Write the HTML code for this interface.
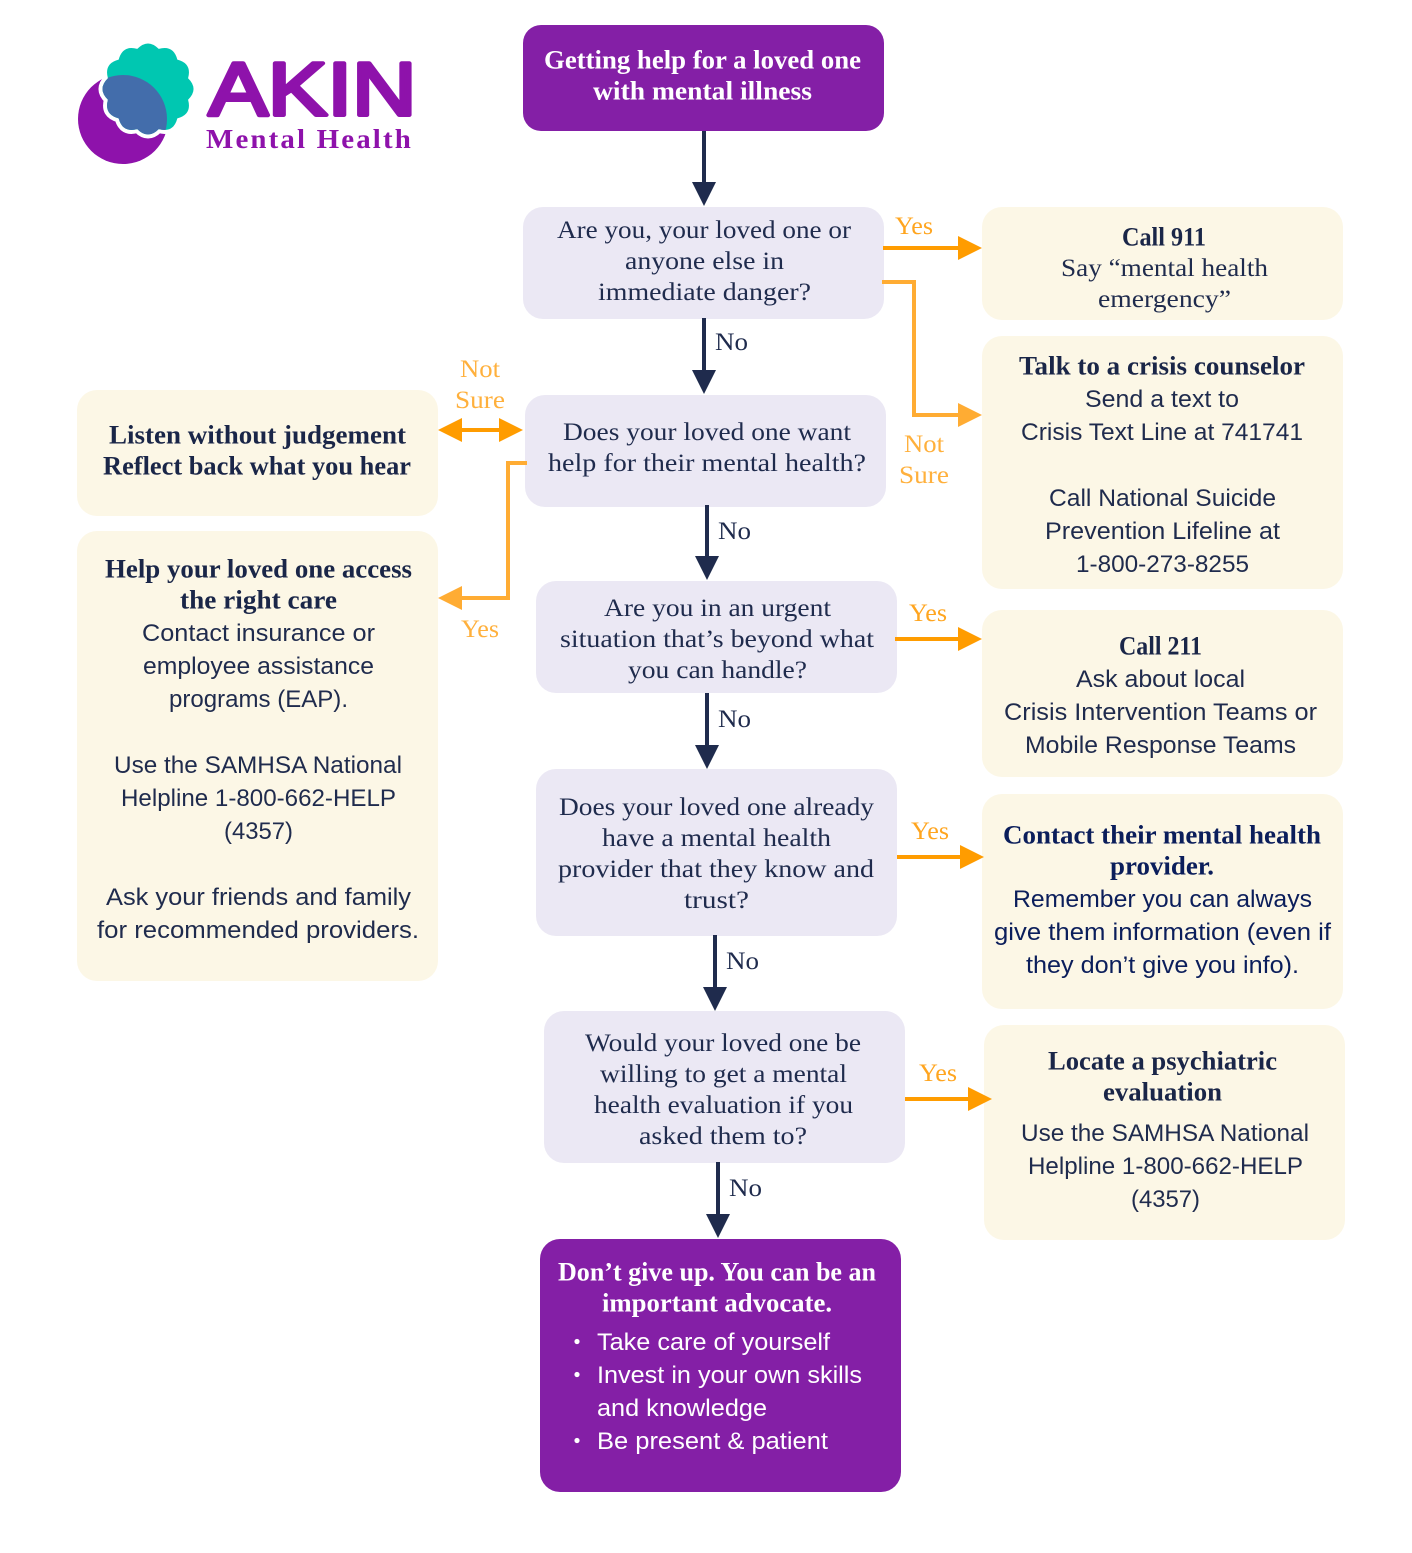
<!DOCTYPE html>
<html><head><meta charset="utf-8"><title>Getting help for a loved one with mental illness</title>
<style>
html,body{margin:0;padding:0;background:#fff;width:1412px;height:1553px;overflow:hidden}
svg{display:block}
text{text-anchor:middle}
.s{font:25.5px "Liberation Serif",serif;fill:#1f2b4d}
.b{font:bold 26px "Liberation Serif",serif;fill:#1a2648;transform:translateY(.6px)}
.o{font:24px "Liberation Sans",sans-serif;fill:#1f2b4d}
.n{fill:#0b1e5b}
.w{fill:#fff}
.l{font:25.5px "Liberation Serif",serif;fill:#ffb03c}
.y{font:25.5px "Liberation Serif",serif;fill:#ffa51f}
.st{text-anchor:start}
</style></head><body>
<svg xmlns="http://www.w3.org/2000/svg" width="1412" height="1553" viewBox="0 0 1412 1553">
<defs>
<clipPath id="cp"><path d="M188.08 99.74Q192.17 114.5 177.34 118.34Q173.5 133.17 158.74 129.08Q148 140 137.26 129.08Q122.5 133.17 118.66 118.34Q103.83 114.5 107.92 99.74Q97 89 107.92 78.26Q103.83 63.5 118.66 59.66Q122.5 44.83 137.26 48.92Q148 38 158.74 48.92Q173.5 44.83 177.34 59.66Q192.17 63.5 188.08 78.26Q199 89 188.08 99.74Z"/></clipPath>
</defs>

<!-- logo -->
<circle cx="123" cy="119" r="45" fill="#8e12ab"/>
<path d="M188.08 99.74Q192.17 114.5 177.34 118.34Q173.5 133.17 158.74 129.08Q148 140 137.26 129.08Q122.5 133.17 118.66 118.34Q103.83 114.5 107.92 99.74Q97 89 107.92 78.26Q103.83 63.5 118.66 59.66Q122.5 44.83 137.26 48.92Q148 38 158.74 48.92Q173.5 44.83 177.34 59.66Q192.17 63.5 188.08 78.26Q199 89 188.08 99.74Z" fill="#fff" stroke="#fff" stroke-width="8" stroke-linejoin="round"/>
<path d="M188.08 99.74Q192.17 114.5 177.34 118.34Q173.5 133.17 158.74 129.08Q148 140 137.26 129.08Q122.5 133.17 118.66 118.34Q103.83 114.5 107.92 99.74Q97 89 107.92 78.26Q103.83 63.5 118.66 59.66Q122.5 44.83 137.26 48.92Q148 38 158.74 48.92Q173.5 44.83 177.34 59.66Q192.17 63.5 188.08 78.26Q199 89 188.08 99.74Z" fill="#00c7b1"/>
<circle cx="123" cy="119" r="44" fill="#436dab" clip-path="url(#cp)"/>
<text x="312.5" y="115" textLength="208" lengthAdjust="spacingAndGlyphs" style="font:75px 'Liberation Sans',sans-serif;fill:#8e12ab;stroke:#8e12ab;stroke-width:4;stroke-linejoin:round;stroke-linecap:round">AKIN</text>
<text class="st" x="206" y="148" textLength="207" lengthAdjust="spacingAndGlyphs" style="font:bold 27px 'Liberation Serif',serif;letter-spacing:2px;fill:#8e12ab">Mental Health</text>

<!-- boxes -->
<g fill="#841fa6">
<rect x="523" y="25" width="361" height="106" rx="18"/>
<rect x="540" y="1239" width="361" height="253" rx="20"/>
</g>
<g fill="#ebe8f4">
<rect x="523" y="207" width="361" height="112" rx="20"/>
<rect x="525" y="395" width="361" height="112" rx="20"/>
<rect x="536" y="581" width="361" height="112" rx="20"/>
<rect x="536" y="769" width="361" height="167" rx="20"/>
<rect x="544" y="1011" width="361" height="152" rx="20"/>
</g>
<g fill="#fcf7e6">
<rect x="982" y="207" width="361" height="113" rx="20"/>
<rect x="982" y="336" width="361" height="253" rx="20"/>
<rect x="982" y="610" width="361" height="167" rx="20"/>
<rect x="982" y="794" width="361" height="215" rx="20"/>
<rect x="984" y="1025" width="361" height="215" rx="20"/>
<rect x="77" y="390" width="361" height="126" rx="20"/>
<rect x="77" y="531" width="361" height="450" rx="20"/>
</g>

<!-- navy arrows -->
<g fill="#1f2b4d" stroke="none">
<rect x="702" y="131" width="4" height="53"/><path d="M692 182h24l-12 24z"/>
<rect x="702" y="318" width="4" height="53"/><path d="M692 370h24l-12 24z"/>
<rect x="705" y="505" width="4" height="53"/><path d="M695 556h24l-12 24z"/>
<rect x="705" y="693" width="4" height="53"/><path d="M695 745h24l-12 24z"/>
<rect x="713" y="935" width="4" height="53"/><path d="M703 987h24l-12 24z"/>
<rect x="716" y="1162" width="4" height="53"/><path d="M706 1214h24l-12 24z"/>
</g>

<!-- orange arrows -->
<g fill="#ff9c00">
<rect x="883" y="246" width="76" height="4"/><path d="M958 236l24 12-24 12z"/>
<rect x="895" y="637" width="64" height="4"/><path d="M958 627l24 12-24 12z"/>
<rect x="897" y="855" width="64" height="4"/><path d="M960 845l24 12-24 12z"/>
<rect x="905" y="1097" width="64" height="4"/><path d="M968 1087l24 12-24 12z"/>
<rect x="461" y="428" width="39" height="4"/><path d="M462 418l-24 12 24 12z"/><path d="M499 418l24 12-24 12z"/>
</g>
<g fill="none" stroke="#ffac33" stroke-width="4">
<path d="M882 282h32v133h45"/>
<path d="M527 463h-19v135h-47"/>
</g>
<g fill="#ffac33"><path d="M958 403l24 12-24 12z"/><path d="M462 586l-24 12 24 12z"/></g>

<!-- connector labels -->
<text class="y" x="914" y="234" textLength="38" lengthAdjust="spacingAndGlyphs">Yes</text>
<text class="y" x="928" y="621" textLength="38" lengthAdjust="spacingAndGlyphs">Yes</text>
<text class="y" x="930" y="839" textLength="38" lengthAdjust="spacingAndGlyphs">Yes</text>
<text class="y" x="938" y="1081" textLength="38" lengthAdjust="spacingAndGlyphs">Yes</text>
<text class="l" x="480" y="637" textLength="38" lengthAdjust="spacingAndGlyphs">Yes</text>
<text class="l" x="480" y="377" textLength="40" lengthAdjust="spacingAndGlyphs">Not</text>
<text class="l" x="480" y="408" textLength="50" lengthAdjust="spacingAndGlyphs">Sure</text>
<text class="l" x="924" y="452" textLength="40" lengthAdjust="spacingAndGlyphs">Not</text>
<text class="l" x="924" y="483" textLength="50" lengthAdjust="spacingAndGlyphs">Sure</text>
<text class="s" x="731.5" y="350" textLength="33" lengthAdjust="spacingAndGlyphs">No</text>
<text class="s" x="734.5" y="539" textLength="33" lengthAdjust="spacingAndGlyphs">No</text>
<text class="s" x="734.5" y="727" textLength="33" lengthAdjust="spacingAndGlyphs">No</text>
<text class="s" x="742.5" y="969" textLength="33" lengthAdjust="spacingAndGlyphs">No</text>
<text class="s" x="745.5" y="1196" textLength="33" lengthAdjust="spacingAndGlyphs">No</text>

<!-- title -->
<text class="b w" x="702.5" y="68" textLength="317" lengthAdjust="spacingAndGlyphs">Getting help for a loved one</text>
<text class="b w" x="702.5" y="99" textLength="219" lengthAdjust="spacingAndGlyphs">with mental illness</text>

<!-- questions -->
<text class="s" x="704" y="238" textLength="294" lengthAdjust="spacingAndGlyphs">Are you, your loved one or</text>
<text class="s" x="704.5" y="269" textLength="159" lengthAdjust="spacingAndGlyphs">anyone else in</text>
<text class="s" x="704.5" y="300" textLength="213" lengthAdjust="spacingAndGlyphs">immediate danger?</text>

<text class="s" x="707" y="440" textLength="288" lengthAdjust="spacingAndGlyphs">Does your loved one want</text>
<text class="s" x="707" y="471" textLength="318" lengthAdjust="spacingAndGlyphs">help for their mental health?</text>

<text class="s" x="717.5" y="616" textLength="227" lengthAdjust="spacingAndGlyphs">Are you in an urgent</text>
<text class="s" x="717" y="647" textLength="314" lengthAdjust="spacingAndGlyphs">situation that’s beyond what</text>
<text class="s" x="717.5" y="678" textLength="179" lengthAdjust="spacingAndGlyphs">you can handle?</text>

<text class="s" x="716.5" y="815" textLength="315" lengthAdjust="spacingAndGlyphs">Does your loved one already</text>
<text class="s" x="716.5" y="846" textLength="229" lengthAdjust="spacingAndGlyphs">have a mental health</text>
<text class="s" x="716" y="877" textLength="316" lengthAdjust="spacingAndGlyphs">provider that they know and</text>
<text class="s" x="716.5" y="908" textLength="65" lengthAdjust="spacingAndGlyphs">trust?</text>

<text class="s" x="723" y="1051" textLength="276" lengthAdjust="spacingAndGlyphs">Would your loved one be</text>
<text class="s" x="723.5" y="1082" textLength="247" lengthAdjust="spacingAndGlyphs">willing to get a mental</text>
<text class="s" x="723.5" y="1113" textLength="259" lengthAdjust="spacingAndGlyphs">health evaluation if you</text>
<text class="s" x="723" y="1144" textLength="168" lengthAdjust="spacingAndGlyphs">asked them to?</text>

<!-- right column -->
<text class="b" x="1164" y="245" textLength="84" lengthAdjust="spacingAndGlyphs">Call 911</text>
<text class="s" x="1164.5" y="276" textLength="207" lengthAdjust="spacingAndGlyphs">Say “mental health</text>
<text class="s" x="1164.5" y="307" textLength="133" lengthAdjust="spacingAndGlyphs">emergency”</text>

<text class="b" x="1162" y="374" textLength="286" lengthAdjust="spacingAndGlyphs">Talk to a crisis counselor</text>
<text class="o" x="1162" y="407" textLength="154" lengthAdjust="spacingAndGlyphs">Send a text to</text>
<text class="o" x="1162" y="440" textLength="282" lengthAdjust="spacingAndGlyphs">Crisis Text Line at 741741</text>
<text class="o" x="1162.5" y="506" textLength="227" lengthAdjust="spacingAndGlyphs">Call National Suicide</text>
<text class="o" x="1162.5" y="539" textLength="235" lengthAdjust="spacingAndGlyphs">Prevention Lifeline at</text>
<text class="o" x="1162.5" y="572" textLength="173" lengthAdjust="spacingAndGlyphs">1-800-273-8255</text>

<text class="b" x="1160.5" y="654" textLength="83" lengthAdjust="spacingAndGlyphs">Call 211</text>
<text class="o" x="1160.5" y="687" textLength="169" lengthAdjust="spacingAndGlyphs">Ask about local</text>
<text class="o" x="1160.5" y="720" textLength="313" lengthAdjust="spacingAndGlyphs">Crisis Intervention Teams or</text>
<text class="o" x="1160.5" y="753" textLength="271" lengthAdjust="spacingAndGlyphs">Mobile Response Teams</text>

<text class="b n" x="1162" y="843" textLength="318" lengthAdjust="spacingAndGlyphs">Contact their mental health</text>
<text class="b n" x="1162" y="874" textLength="104" lengthAdjust="spacingAndGlyphs">provider.</text>
<text class="o n" x="1162.5" y="907" textLength="299" lengthAdjust="spacingAndGlyphs">Remember you can always</text>
<text class="o n" x="1162.5" y="940" textLength="337" lengthAdjust="spacingAndGlyphs">give them information (even if</text>
<text class="o n" x="1162.5" y="973" textLength="273" lengthAdjust="spacingAndGlyphs">they don’t give you info).</text>

<text class="b" x="1162.5" y="1069" textLength="229" lengthAdjust="spacingAndGlyphs">Locate a psychiatric</text>
<text class="b" x="1162.5" y="1100" textLength="119" lengthAdjust="spacingAndGlyphs">evaluation</text>
<text class="o" x="1165" y="1141" textLength="288" lengthAdjust="spacingAndGlyphs">Use the SAMHSA National</text>
<text class="o" x="1165.5" y="1174" textLength="275" lengthAdjust="spacingAndGlyphs">Helpline 1-800-662-HELP</text>
<text class="o" x="1165.5" y="1207" textLength="69" lengthAdjust="spacingAndGlyphs">(4357)</text>

<!-- left column -->
<text class="b" x="257.5" y="443" textLength="297" lengthAdjust="spacingAndGlyphs">Listen without judgement</text>
<text class="b" x="257" y="474" textLength="308" lengthAdjust="spacingAndGlyphs">Reflect back what you hear</text>

<text class="b" x="258.5" y="577" textLength="307" lengthAdjust="spacingAndGlyphs">Help your loved one access</text>
<text class="b" x="258.5" y="608" textLength="157" lengthAdjust="spacingAndGlyphs">the right care</text>
<text class="o" x="258.5" y="641" textLength="233" lengthAdjust="spacingAndGlyphs">Contact insurance or</text>
<text class="o" x="258.5" y="674" textLength="231" lengthAdjust="spacingAndGlyphs">employee assistance</text>
<text class="o" x="258.5" y="707" textLength="179" lengthAdjust="spacingAndGlyphs">programs (EAP).</text>
<text class="o" x="258" y="773" textLength="288" lengthAdjust="spacingAndGlyphs">Use the SAMHSA National</text>
<text class="o" x="258.5" y="806" textLength="275" lengthAdjust="spacingAndGlyphs">Helpline 1-800-662-HELP</text>
<text class="o" x="258.5" y="839" textLength="69" lengthAdjust="spacingAndGlyphs">(4357)</text>
<text class="o" x="258.5" y="905" textLength="305" lengthAdjust="spacingAndGlyphs">Ask your friends and family</text>
<text class="o" x="258" y="938" textLength="322" lengthAdjust="spacingAndGlyphs">for recommended providers.</text>

<!-- final box -->
<text class="b w" x="717" y="1280" textLength="318" lengthAdjust="spacingAndGlyphs">Don’t give up. You can be an</text>
<text class="b w" x="717" y="1311" textLength="230" lengthAdjust="spacingAndGlyphs">important advocate.</text>
<g fill="#fff"><circle cx="577" cy="1341.5" r="2.6"/><circle cx="577" cy="1374.5" r="2.6"/><circle cx="577" cy="1440.5" r="2.6"/></g>
<text class="o w st" x="597" y="1350" textLength="233" lengthAdjust="spacingAndGlyphs">Take care of yourself</text>
<text class="o w st" x="597" y="1383" textLength="265" lengthAdjust="spacingAndGlyphs">Invest in your own skills</text>
<text class="o w st" x="597" y="1416" textLength="170" lengthAdjust="spacingAndGlyphs">and knowledge</text>
<text class="o w st" x="597" y="1449" textLength="231" lengthAdjust="spacingAndGlyphs">Be present &amp; patient</text>
</svg>
</body></html>
